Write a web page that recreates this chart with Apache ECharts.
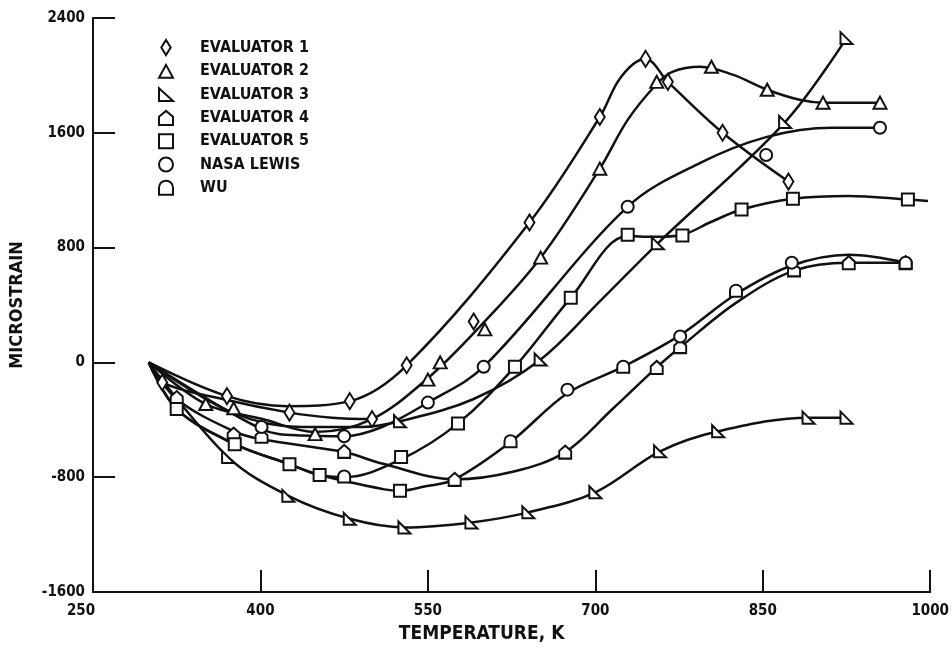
<!DOCTYPE html>
<html>
<head>
<meta charset="utf-8">
<script src="https://cdn.jsdelivr.net/npm/echarts@6/dist/echarts.min.js"></script>
<style>
  html, body { margin: 0; padding: 0; background: #ffffff; }
  #chart { width: 952px; height: 652px; }
</style>
</head>
<body>
<div id="chart"></div>
<script>
// ---- axis ticks ----
const xTicks = [250, 400, 550, 700, 850, 1000];
const yTicks = [-1600, -800, 0, 800, 1600, 2400];

// ---- series (legend order) ----
const seriesNames = ['EVALUATOR 1', 'EVALUATOR 2', 'EVALUATOR 3', 'EVALUATOR 4', 'EVALUATOR 5', 'NASA LEWIS', 'WU'];

// ---- faired curves: [temperature K, microstrain] ----
const ev1Curve = [[300,0],[370,-235],[424,-305],[480,-270],[531,-20],[641,975],[704,1710],[720,1955],[734,2080],[745,2115],[765,1955],[814,1600],[873,1260]];
const ev1CurveLow = [[300,0],[312,-140],[366,-255],[426,-350],[464,-385],[500,-395]];
const ev2Curve = [[300,0],[351,-290],[402,-395],[449,-485],[500,-395],[550,-110],[596,245],[651,730],[704,1350],[729,1690],[755,1940],[769,2025],[794,2060],[823,2005],[854,1900],[883,1830],[904,1810],[955,1810]];
const ev3CurveHigh = [[300,0],[375,-350],[437,-450],[491,-450],[525,-410],[591,-255],[651,20],[704,425],[756,830],[870,1675],[925,2260]];
const ev3CurveLow = [[300,0],[371,-660],[425,-930],[480,-1090],[529,-1150],[589,-1115],[640,-1045],[700,-905],[758,-620],[810,-480],[891,-385],[925,-385]];
const ev4Curve = [[300,0],[325,-255],[376,-480],[401,-535],[475,-625],[509,-705],[574,-815],[627,-760],[673,-625],[714,-335],[755,-35],[776,105],[826,415],[878,640],[927,695],[978,695]];
const ev5Curve = [[300,0],[325,-325],[377,-570],[426,-710],[453,-785],[475,-800],[526,-675],[577,-425],[628,-30],[678,450],[729,880],[753,875],[778,890],[804,980],[831,1065],[877,1140],[927,1160],[980,1135],[998,1125]];
const ev5WuCurve = [[300,0],[325,-325],[377,-570],[426,-710],[453,-785],[511,-885],[525,-895],[547,-865],[574,-815],[624,-555],[675,-215],[725,-30],[776,190],[826,475],[876,675],[927,750],[978,695]];
const nasaCurve = [[300,0],[401,-465],[437,-510],[475,-515],[509,-450],[550,-280],[600,-30],[729,1085],[794,1390],[853,1570],[912,1635],[955,1635]];

// ---- data points: [temperature K, microstrain] ----
const ev1Points = [[312,-140],[370,-235],[426,-350],[480,-270],[500,-395],[531,-20],[591,285],[641,975],[704,1710],[745,2115],[765,1955],[814,1600],[873,1260]];
const ev2Points = [[351,-290],[376,-320],[449,-500],[550,-120],[561,0],[601,230],[651,730],[704,1350],[755,1955],[804,2060],[854,1900],[904,1810],[955,1810]];
const ev3Points = [[371,-660],[425,-930],[480,-1090],[529,-1150],[589,-1115],[640,-1045],[700,-905],[758,-620],[810,-480],[891,-385],[925,-385],
                   [525,-410],[651,20],[756,830],[870,1675],[925,2260]];
const ev4Points = [[325,-245],[376,-500],[401,-515],[475,-620],[574,-815],[673,-625],[755,-35],[776,110],[878,645],[927,695],[978,695]];
const ev5Points = [[325,-325],[377,-570],[426,-710],[453,-785],[525,-895],[526,-660],[577,-425],[628,-30],[678,450],[729,890],[778,885],[831,1065],[877,1140],[980,1135]];
const nasaPoints = [[401,-450],[475,-515],[550,-280],[600,-30],[675,-190],[729,1085],[776,180],[853,1445],[876,695],[955,1635]];
const wuPoints = [[475,-795],[624,-550],[725,-30],[826,500],[978,695]];

// ---- marker shapes ----
const SHAPES = {
  diamond: 'path://M5,0 L10,8 L5,16 L0,8 Z',
  triangle: 'path://M6,0 L12,11 L0,11 Z',
  rightTri: 'path://M0,0 L0,11 L12,11 Z',
  house: 'path://M0,5 L6,0 L12,5 L12,12 L0,12 Z',
  square: 'path://M0,0 L11,0 L11,11 L0,11 Z',
  circle: 'circle',
  dome: 'path://M0,12 L0,6 C0,-2 12,-2 12,6 L12,12 Z'
};

const markerDefs = [
  { name: seriesNames[0], data: ev1Points, symbol: SHAPES.diamond, size: [10, 16] },
  { name: seriesNames[1], data: ev2Points, symbol: SHAPES.triangle, size: [13, 12] },
  { name: seriesNames[2], data: ev3Points, symbol: SHAPES.rightTri, size: [12, 12] },
  { name: seriesNames[3], data: ev4Points, symbol: SHAPES.house, size: [12, 13] },
  { name: seriesNames[4], data: ev5Points, symbol: SHAPES.square, size: [12, 12] },
  { name: seriesNames[5], data: nasaPoints, symbol: SHAPES.circle, size: [12, 12] },
  { name: seriesNames[6], data: wuPoints, symbol: SHAPES.dome, size: [12, 12] }
];

const curves = [ev1Curve, ev1CurveLow, ev2Curve, ev3CurveHigh, ev3CurveLow, ev4Curve, ev5Curve, ev5WuCurve, nasaCurve];

const FONT = '"Liberation Sans Narrow", "DejaVu Sans Condensed", "Liberation Sans", sans-serif';
const INK = '#111111';

const lineSeries = curves.map((c, i) => ({
  type: 'line',
  name: 'curve-' + i,
  data: c,
  smooth: 0.35,
  symbol: 'none',
  silent: true,
  z: 2,
  lineStyle: { color: INK, width: 2.5 }
}));

const pointSeries = markerDefs.map(d => ({
  type: 'scatter',
  name: d.name,
  data: d.data,
  symbol: d.symbol,
  symbolSize: d.size,
  z: 3,
  itemStyle: { color: '#ffffff', borderColor: INK, borderWidth: 2, opacity: 1 }
}));

const chart = echarts.init(document.getElementById('chart'), null, { renderer: 'canvas' });
chart.setOption({
  animation: false,
  backgroundColor: '#ffffff',
  grid: { left: 91, right: 20, top: 18, bottom: 60, containLabel: false },
  legend: {
    orient: 'vertical',
    left: 158,
    top: 39,
    padding: 0,
    itemWidth: 14,
    itemHeight: 15,
    itemGap: 7.3,
    selectedMode: false,
    data: markerDefs.map(d => ({ name: d.name, icon: d.symbol })),
    itemStyle: { color: '#ffffff', borderColor: INK, borderWidth: 2 },
    textStyle: { color: INK, fontSize: 16, fontWeight: 'bold', lineHeight: 15, fontFamily: FONT, padding: [0, 0, 0, 22] }
  },
  xAxis: {
    type: 'value',
    min: xTicks[0],
    max: xTicks[xTicks.length - 1],
    name: 'TEMPERATURE, K',
    nameLocation: 'middle',
    nameGap: 33,
    nameTextStyle: { color: INK, fontSize: 19, fontWeight: 'bold', fontFamily: FONT, padding: [0, 60, 0, 0] },
    axisLine: { show: true, onZero: false, lineStyle: { color: INK, width: 2 } },
    axisTick: { show: true, inside: true, length: 22, lineStyle: { color: INK, width: 2 }, customValues: xTicks.slice(1) },
    axisLabel: {
      color: INK, fontSize: 15, fontWeight: 'bold', fontFamily: FONT, margin: 12, customValues: xTicks,
      formatter: v => (v === xTicks[0] ? '{first|' + v + '}' : String(v)),
      rich: { first: { color: INK, fontSize: 15, fontWeight: 'bold', fontFamily: FONT, padding: [0, 24, 0, 0] } }
    },
    splitLine: { show: false }
  },
  yAxis: {
    type: 'value',
    min: yTicks[0],
    max: yTicks[yTicks.length - 1],
    interval: 800,
    name: 'MICROSTRAIN',
    nameLocation: 'middle',
    nameGap: 67,
    nameRotate: 90,
    nameTextStyle: { color: INK, fontSize: 18, fontWeight: 'bold', fontFamily: FONT },
    axisLine: { show: true, onZero: false, lineStyle: { color: INK, width: 2 } },
    axisTick: { show: true, inside: true, length: 22, lineStyle: { color: INK, width: 2 } },
    axisLabel: { color: INK, fontSize: 15, fontWeight: 'bold', fontFamily: FONT, margin: 8, formatter: v => String(v) },
    splitLine: { show: false }
  },
  series: lineSeries.concat(pointSeries)
});
</script>
</body>
</html>
